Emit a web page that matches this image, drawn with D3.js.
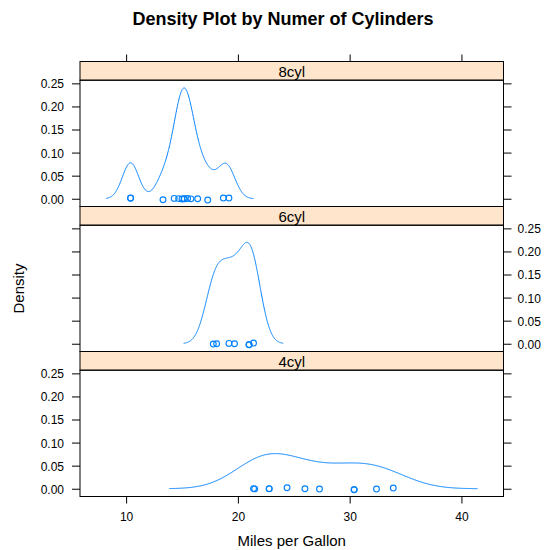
<!DOCTYPE html>
<html>
<head>
<meta charset="utf-8">
<script src="https://cdn.jsdelivr.net/npm/d3@7"></script>
<style>
  body { margin: 0; background: #fff; }
  text { font-family: "Liberation Sans", Arial, Helvetica, sans-serif; }
</style>
</head>
<body>
<div id="chart"></div>
<script>
const W = 544, H = 550;
const PANEL_L = 80, PANEL_R = 503.5;
const BLOCK_TOP = 61.5, BLOCK_H = 145, STRIP_H = 18.7;

// mpg by cylinder group, top panel first; jitter = small vertical offsets of the rug points
const panelNames = ["8cyl", "6cyl", "4cyl"];
const mpg8 = [10.4, 10.4, 13.3, 14.3, 14.7, 15.0, 15.2, 15.2, 15.5, 15.8, 16.4, 17.3, 18.7, 19.2];
const jit8 = [0.0015, 0.0012, -0.0022, 0.0007, 0.0003, -0.0004, 0.0002, -0.0003, 0.0004, -0.0002, 0.0000, -0.0028, 0.0015, 0.0015];
const mpg6 = [17.8, 18.1, 19.2, 19.7, 21.0, 21.0, 21.4];
const jit6 = [-0.0007, 0.0000, 0.0007, 0.0000, -0.0022, -0.0018, 0.0015];
const mpg4 = [21.4, 21.5, 22.8, 22.8, 24.4, 26.0, 27.3, 30.4, 30.4, 32.4, 33.9];
const jit4 = [0.0003, -0.0003, 0.0002, -0.0002, 0.0022, 0.0000, -0.0007, -0.0022, -0.0018, -0.0007, 0.0015];
const xTicks = [10, 20, 30, 40];
const yTicks = [0, 0.05, 0.10, 0.15, 0.20, 0.25];

const groups = [
  { name: panelNames[0], mpg: mpg8, jit: jit8 },
  { name: panelNames[1], mpg: mpg6, jit: jit6 },
  { name: panelNames[2], mpg: mpg4, jit: jit4 }
];

// gaussian kernel density, bandwidth like R's bw.nrd0, cut = 3
function bwNrd0(x) {
  const s = x.slice().sort(d3.ascending);
  const iqr = d3.quantile(s, 0.75) - d3.quantile(s, 0.25);
  const lo = Math.min(d3.deviation(s), iqr / 1.34);
  return 0.9 * lo * Math.pow(s.length, -0.2);
}
function kde(x, n = 512) {
  const bw = bwNrd0(x);
  const from = d3.min(x) - 3 * bw, to = d3.max(x) + 3 * bw;
  const out = [];
  for (let i = 0; i < n; i++) {
    const t = from + (to - from) * i / (n - 1);
    let s = 0;
    x.forEach(v => { const u = (t - v) / bw; s += Math.exp(-0.5 * u * u); });
    out.push({ x: t, y: s / (x.length * bw * Math.sqrt(2 * Math.PI)) });
  }
  return out;
}
groups.forEach(g => g.dens = kde(g.mpg));

// limits extended by 7% like lattice
const xr = [d3.min(groups, g => d3.min(g.dens, d => d.x)), d3.max(groups, g => d3.max(g.dens, d => d.x))];
const xpad = 0.07 * (xr[1] - xr[0]);
const yr = [0, d3.max(groups, g => d3.max(g.dens, d => d.y))];
const ypad = 0.07 * (yr[1] - yr[0]);

const x = d3.scaleLinear().domain([xr[0] - xpad, xr[1] + xpad]).range([PANEL_L, PANEL_R]);

const svg = d3.select("#chart").append("svg")
  .attr("width", W).attr("height", H);

svg.append("text")
  .attr("x", 283).attr("y", 24.5)
  .attr("text-anchor", "middle")
  .style("font-size", "18px").style("font-weight", "bold")
  .text("Density Plot by Numer of Cylinders");

function styleAxis(g) {
  g.select(".domain").remove();
  g.selectAll(".tick line").attr("stroke", "#000");
  g.selectAll(".tick text").attr("fill", "#000").style("font-size", "12px");
}

groups.forEach((grp, i) => {
  const top = BLOCK_TOP + i * BLOCK_H;
  const pTop = top + STRIP_H, pBot = top + BLOCK_H;
  const y = d3.scaleLinear().domain([yr[0] - ypad, yr[1] + ypad]).range([pBot, pTop]);
  const labelsLeft = (i % 2 === 0);

  const left = d3.axisLeft(y).tickValues(yTicks).tickSize(8).tickPadding(8)
    .tickFormat(labelsLeft ? d3.format(".2f") : "");
  const right = d3.axisRight(y).tickValues(yTicks).tickSize(8).tickPadding(6)
    .tickFormat(labelsLeft ? "" : d3.format(".2f"));
  svg.append("g").attr("transform", `translate(${PANEL_L},0)`).call(left).call(styleAxis);
  svg.append("g").attr("transform", `translate(${PANEL_R},0)`).call(right).call(styleAxis);
  svg.selectAll(".tick text").attr("dy", "0.37em");

  // strip
  svg.append("rect")
    .attr("x", PANEL_L).attr("y", top)
    .attr("width", PANEL_R - PANEL_L).attr("height", STRIP_H)
    .attr("fill", "#ffe5cc").attr("stroke", "#000").attr("stroke-width", 1);
  svg.append("text")
    .attr("x", (PANEL_L + PANEL_R) / 2).attr("y", top + 15)
    .attr("text-anchor", "middle")
    .style("font-size", "15px")
    .text(grp.name);

  // panel
  svg.append("rect")
    .attr("x", PANEL_L).attr("y", pTop)
    .attr("width", PANEL_R - PANEL_L).attr("height", pBot - pTop)
    .attr("fill", "none").attr("stroke", "#000").attr("stroke-width", 1);

  const line = d3.line().x(d => x(d.x)).y(d => y(d.y));
  svg.append("path")
    .datum(grp.dens)
    .attr("d", line)
    .attr("fill", "none").attr("stroke", "#0080ff").attr("stroke-width", 1);

  svg.append("g").selectAll("circle")
    .data(grp.mpg.map((v, k) => ({ v: v, j: grp.jit[k] })))
    .enter().append("circle")
    .attr("cx", d => x(d.v)).attr("cy", d => y(d.j))
    .attr("r", 2.9)
    .attr("fill", "none").attr("stroke", "#0080ff").attr("stroke-width", 1.1);

  if (i === 0) {
    svg.append("g").attr("transform", `translate(0,${top})`)
      .call(d3.axisTop(x).tickValues(xTicks).tickSize(7).tickFormat(""))
      .call(styleAxis);
  }
  if (i === groups.length - 1) {
    svg.append("g").attr("transform", `translate(0,${pBot})`)
      .call(d3.axisBottom(x).tickValues(xTicks).tickSize(7).tickPadding(9).tickFormat(d3.format("d")))
      .call(styleAxis);
  }
});

svg.append("text")
  .attr("x", (PANEL_L + PANEL_R) / 2).attr("y", 545.5)
  .attr("text-anchor", "middle")
  .style("font-size", "15px")
  .text("Miles per Gallon");

svg.append("text")
  .attr("transform", "translate(24,288.5) rotate(-90)")
  .attr("text-anchor", "middle")
  .style("font-size", "15px")
  .text("Density");
</script>
</body>
</html>
